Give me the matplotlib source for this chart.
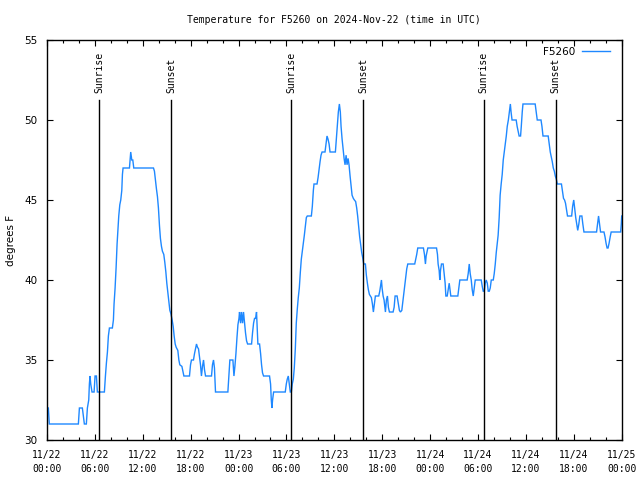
import matplotlib
matplotlib.use("Agg")
import matplotlib.pyplot as plt
from matplotlib.ticker import MultipleLocator
import matplotlib.transforms as mtransforms

# ---- data (hours since 2024-11-22 00:00 UTC, temperature in F) ----
hours = [
    0.17, 0.29, 3.93, 4.06, 4.43, 4.56, 4.68, 4.93, 5.06, 5.23, 5.31, 5.39, 5.48, 5.64, 5.9, 6.02,
    6.19, 6.31, 7.19, 7.32, 7.44, 7.57, 7.69, 7.82, 8.19, 8.32, 8.4, 8.53, 8.66, 8.78, 8.91, 8.99,
    9.12, 9.24, 9.37, 9.45, 9.53, 10.33, 10.41, 10.49, 10.62, 10.75, 10.87, 13.34, 13.46, 13.59,
    13.71, 13.84, 13.96, 14.09, 14.21, 14.34, 14.46, 14.63, 14.76, 14.89, 15.01, 15.14, 15.26,
    15.39, 15.52, 15.68, 15.81, 15.93, 16.06, 16.18, 16.39, 16.52, 16.64, 16.9, 17.02, 17.15,
    17.85, 17.98, 18.1, 18.35, 18.48, 18.6, 18.73, 18.85, 18.98, 19.1, 19.23, 19.35, 19.48, 19.61,
    19.73, 19.86, 20.61, 20.73, 20.86, 20.98, 21.11, 22.66, 22.79, 22.91, 23.29, 23.42, 23.54,
    23.67, 23.8, 23.92, 24.05, 24.12, 24.25, 24.37, 24.5, 24.62, 24.75, 24.87, 25.0, 25.13, 25.63,
    25.75, 25.88, 26.0, 26.13, 26.25, 26.34, 26.42, 26.63, 26.76, 26.88, 27.0, 27.13, 27.88, 28.01,
    28.1, 28.18, 28.26, 28.39, 29.85, 29.98, 30.1, 30.23, 30.36, 30.48, 30.61, 30.73, 30.86, 30.98,
    31.11, 31.23, 31.36, 31.48, 31.61, 31.74, 31.86, 31.99, 32.11, 32.24, 32.36, 32.49, 32.61,
    33.12, 33.24, 33.37, 33.45, 33.83, 33.96, 34.08, 34.21, 34.33, 34.46, 34.83, 34.96, 35.08,
    35.21, 35.34, 35.46, 36.13, 36.25, 36.38, 36.5, 36.63, 36.75, 36.84, 36.97, 37.09, 37.22,
    37.34, 37.47, 37.59, 37.72, 37.84, 37.97, 38.1, 38.22, 38.38, 38.51, 38.67, 38.8, 38.92, 39.05,
    39.17, 39.3, 39.43, 39.55, 39.68, 39.89, 40.01, 40.14, 40.26, 40.39, 40.52, 40.64, 40.77,
    40.89, 41.02, 41.14, 41.56, 41.69, 41.9, 41.98, 42.11, 42.23, 42.4, 42.52, 42.65, 42.77, 42.9,
    43.36, 43.49, 43.61, 43.86, 43.99, 44.15, 44.28, 44.45, 44.57, 44.7, 44.82, 44.95, 45.07,
    45.2, 46.07, 46.2, 46.32, 46.45, 47.16, 47.29, 47.41, 47.5, 47.63, 47.71, 48.8, 48.92, 49.0,
    49.13, 49.21, 49.3, 49.42, 49.63, 49.76, 49.88, 49.97, 50.14, 50.26, 50.39, 50.47, 50.59,
    51.47, 51.59, 51.72, 52.64, 52.77, 52.9, 53.02, 53.15, 53.27, 53.4, 53.52, 53.65, 54.4, 54.53,
    54.65, 54.78, 54.9, 55.03, 55.16, 55.28, 55.41, 55.53, 55.66, 55.91, 56.03, 56.16, 56.28,
    56.41, 56.52, 56.65, 56.77, 56.9, 57.03, 57.16, 57.29, 57.41, 57.54, 57.66, 57.8, 57.93,
    58.05, 58.14, 58.26, 58.78, 58.9, 59.03, 59.15, 59.33, 59.42, 59.54, 59.63, 61.16, 61.29,
    61.42, 61.89, 62.01, 62.14, 62.79, 62.92, 63.05, 63.17, 63.3, 63.43, 63.56, 63.68, 63.81,
    63.93, 64.45, 64.57, 64.71, 64.84, 64.96, 65.09, 65.21, 65.73, 65.85, 65.99, 66.12, 66.24,
    66.37, 66.49, 66.63, 66.76, 67.01, 67.13, 67.27, 68.85, 68.98, 69.1, 69.23, 69.35, 69.78,
    69.91, 70.04, 70.17, 70.29, 70.42, 70.56, 70.68, 71.87, 71.95, 72.0,
]
temp_f = [
    32, 31, 31, 32, 32, 31.5, 31, 31, 32, 32.5, 33.5, 34, 33.5, 33, 33, 34,
    34, 33, 33, 34, 34.8, 35.5, 36.5, 37, 37, 37.5, 38.5, 39.5, 40.8, 42.25, 43.4, 44,
    44.7, 45, 45.6, 46.6, 47, 47, 47.5, 48, 47.5, 47.5, 47, 47, 46.8, 46.2,
    45.7, 45.2, 44.5, 43.4, 42.6, 42.1, 41.8, 41.6, 41.1, 40.5, 39.8, 39.2, 38.6,
    38.1, 37.9, 37.5, 37.1, 36.5, 36, 35.8, 35.6, 35, 34.7, 34.6, 34.3, 34,
    34, 34.7, 35, 35, 35.4, 35.7, 36, 35.8, 35.7, 35.2, 34.7, 34, 34.6, 35,
    34.4, 34, 34, 34.7, 35, 34.5, 33, 33, 34, 35, 35, 34, 34.6,
    35.4, 36.4, 37.2, 37.6, 38, 37.3, 38, 37.3, 38, 37.3, 36.7, 36.2, 36, 36,
    36.7, 37.3, 37.6, 37.6, 38, 37, 36, 36, 35.4, 34.7, 34.2, 34, 34, 33.5,
    32.5, 32, 32.5, 33, 33, 33.5, 33.8, 34, 33.5, 33, 33, 33.5, 33.8, 34.5,
    35.7, 37.3, 38.2, 38.9, 39.5, 40.5, 41.3, 41.8, 42.3, 42.8, 43.3, 43.9, 44,
    44, 44.6, 45.6, 46, 46, 46.4, 46.9, 47.4, 47.8, 48, 48, 48.5, 49,
    48.8, 48.5, 48, 48, 48.8, 49.6, 50.5, 51, 50.5, 49.6, 48.8, 48.2, 47.6,
    47.2, 47.8, 47.2, 47.6, 47.2, 46.5, 45.9, 45.3, 45.1, 45, 44.9, 44.5, 44, 43.3,
    42.7, 42.2, 41.7, 41.4, 41, 41, 40.3, 39.8, 39.4, 39.1, 39, 38.9, 38.5,
    38, 38.5, 39, 39, 39.3, 40, 39.5, 39, 38.75, 38, 38.75, 39, 38.3, 38,
    38, 38.3, 39, 39, 38.6, 38.1, 38, 38.1, 38.6, 39.2, 39.7, 40.2, 40.7,
    41, 41, 41.3, 41.6, 42, 42, 41.6, 41, 41.5, 41.8, 42, 42, 41.6, 41,
    40.6, 40, 40.6, 41, 41, 40.4, 39.8, 39, 39, 39.4, 39.8, 39.5, 39,
    39, 39.5, 40, 40, 40.4, 41, 40.4, 40, 39.4, 39, 39.5, 40, 40, 39.6,
    39.3, 39.3, 39.8, 40, 39.8, 39.3, 39.3, 39.5, 40, 40, 40.4, 41, 41.7,
    42.3, 42.8, 43.9, 45.3, 46, 46.6, 47.5, 48, 48.5, 49, 49.6, 50, 50.5,
    51, 50.5, 50, 50, 49.6, 49.3, 49, 49, 49.6, 50.5, 51, 51, 50.5,
    50, 50, 49.6, 49, 49, 48.5, 48, 47.7, 47.4, 47, 46.8, 46.5, 46.3,
    46, 46, 45.6, 45.1, 45, 44.8, 44.4, 44, 44, 44.6, 45, 44.4, 43.9,
    43.5, 43.1, 43.5, 44, 44, 43.5, 43, 43, 43.5, 44, 43.5, 43, 43,
    42.7, 42.3, 42, 42, 42.3, 42.7, 43, 43, 43.5, 44,
]
sunrise_hours = [6.55, 30.62, 54.7]
sunset_hours = [15.58, 39.62, 63.72]
xtick_hours = [0, 6, 12, 18, 24, 30, 36, 42, 48, 54, 60, 66, 72]
xtick_labels = ["11/22\n00:00", "11/22\n06:00", "11/22\n12:00", "11/22\n18:00",
                "11/23\n00:00", "11/23\n06:00", "11/23\n12:00", "11/23\n18:00",
                "11/24\n00:00", "11/24\n06:00", "11/24\n12:00", "11/24\n18:00",
                "11/25\n00:00"]
yticks = [30, 35, 40, 45, 50, 55]
series_name = "F5260"
title = "Temperature for F5260 on 2024-Nov-22 (time in UTC)"

mono = "DejaVu Sans Mono"
sans = "DejaVu Sans"

fig = plt.figure(figsize=(6.4, 4.8), dpi=100)
ax = fig.add_axes([47 / 640, 40 / 480, (621.7 - 47) / 640, 400 / 480])

ax.plot(hours, temp_f, color="#1e88ff", lw=1.0, label=series_name, solid_joinstyle="miter")

trans = mtransforms.blended_transform_factory(ax.transData, ax.transAxes)
for t in sunrise_hours:
    ax.plot([t, t], [0, 0.85], color="black", lw=1.0, transform=trans)
    ax.text(t, 0.867, "Sunrise", rotation=90, ha="center", va="bottom",
            transform=trans, family=mono, fontsize=7)
for t in sunset_hours:
    ax.plot([t, t], [0, 0.85], color="black", lw=1.0, transform=trans)
    ax.text(t, 0.867, "Sunset", rotation=90, ha="center", va="bottom",
            transform=trans, family=mono, fontsize=7)

ax.set_xlim(0, 72)
ax.set_ylim(30, 55)
ax.set_xticks(xtick_hours)
ax.set_xticklabels(xtick_labels, family=mono, fontsize=7, linespacing=1.5)
ax.xaxis.set_minor_locator(MultipleLocator(2))
ax.set_yticks(yticks)
ax.set_yticklabels([str(v) for v in yticks], family=sans, fontsize=7.5)
ax.tick_params(axis="both", which="major", direction="in", length=4.5, width=0.8,
               top=True, right=True, color="black")
ax.tick_params(axis="x", which="major", pad=7)
ax.tick_params(axis="y", which="major", pad=7)
ax.tick_params(axis="x", which="minor", direction="in", length=2.5, width=0.8, top=True)
for s in ax.spines.values():
    s.set_linewidth(1.0)
    s.set_color("black")

# y-axis label placed as figure text so it is not clipped
fig.text(11.5 / 640, 0.5, "degrees F", rotation=90, ha="center", va="center",
         family=sans, fontsize=7.5)

fig.text((47 + 621.7) / 2 / 640, 1 - 20 / 480, title, ha="center", va="center",
         family=mono, fontsize=7)

leg = ax.legend(loc="upper right", bbox_to_anchor=(0.987, 0.993), frameon=False,
                markerfirst=False, handlelength=2.7, handletextpad=0.6,
                borderaxespad=0.0, prop={"family": sans, "size": 7.5})

fig.savefig("out.png", dpi=100)
